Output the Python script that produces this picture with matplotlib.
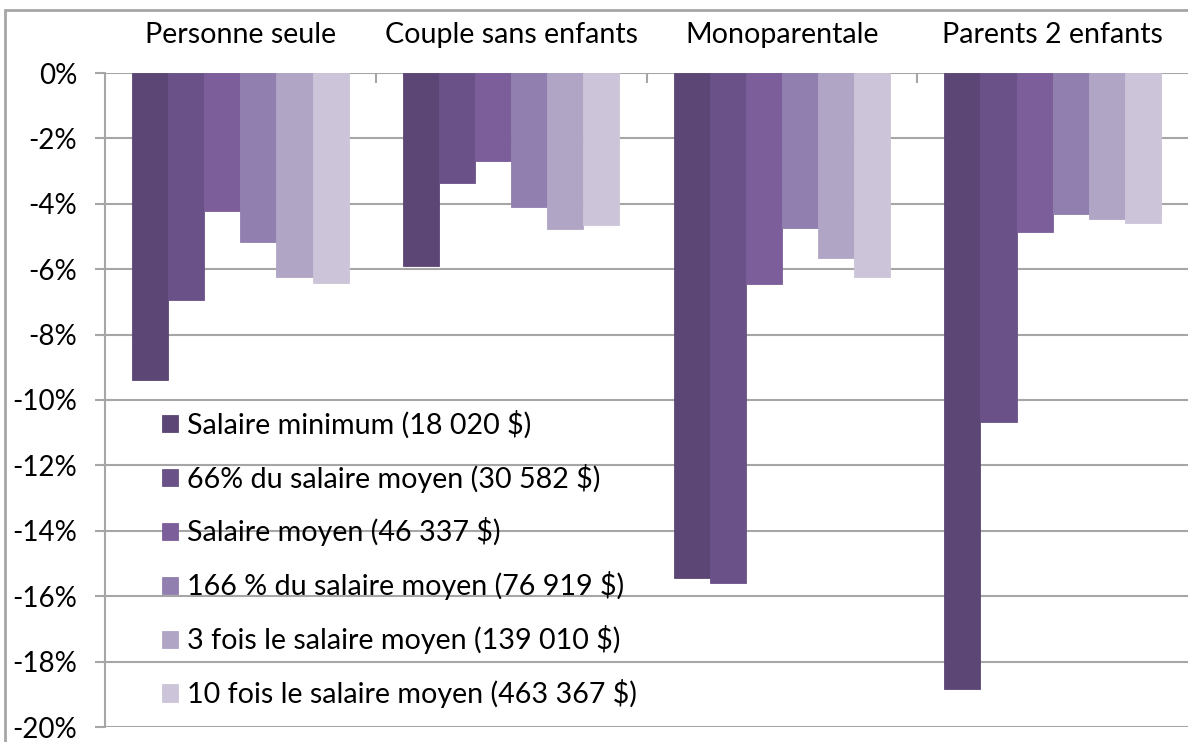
import matplotlib
matplotlib.use("Agg")
import matplotlib.pyplot as plt
import numpy as np
from matplotlib.patches import Rectangle
from matplotlib.ticker import FuncFormatter, FixedLocator

plt.rcParams['font.family'] = ['Lato', 'DejaVu Sans']

categories = ["Personne seule", "Couple sans enfants", "Monoparentale", "Parents 2 enfants"]
series_labels = [
    "Salaire minimum (18 020 $)",
    "66% du salaire moyen (30 582 $)",
    "Salaire moyen (46 337 $)",
    "166 % du salaire moyen (76 919 $)",
    "3 fois le salaire moyen (139 010 $)",
    "10 fois le salaire moyen (463 367 $)",
]
salaire_minimum = [-9.4, -5.9, -15.45, -18.85]
salaire_66 = [-6.95, -3.35, -15.6, -10.67]
salaire_moyen = [-4.22, -2.7, -6.45, -4.86]
salaire_166 = [-5.17, -4.1, -4.74, -4.31]
salaire_3x = [-6.24, -4.77, -5.66, -4.48]
salaire_10x = [-6.42, -4.65, -6.24, -4.59]
series_values = [salaire_minimum, salaire_66, salaire_moyen, salaire_166, salaire_3x, salaire_10x]
colors = ["#5C4675", "#6A5188", "#7B5E9A", "#9180AF", "#B1A5C6", "#CCC5D9"]

W, H = 1188, 742
fig = plt.figure(figsize=(W / 100, H / 100), dpi=100)
ax = fig.add_axes([105 / W, 1 - 727 / H, (1188 - 105) / W, (727 - 73) / H])

n = len(series_values)
group_w = 0.8
bw = group_w / n
x = np.arange(len(categories))
for i, (vals, col, lab) in enumerate(zip(series_values, colors, series_labels)):
    ax.bar(x - group_w / 2 + bw * (i + 0.5), vals, width=bw, color=col, label=lab,
           edgecolor=col, linewidth=0.6, zorder=3)

ax.set_xlim(-0.5, len(categories) - 0.5)
ax.set_ylim(-20, 0)
ax.yaxis.set_major_locator(FixedLocator(np.arange(-20, 1, 2)))
ax.yaxis.set_major_formatter(FuncFormatter(lambda v, p: f"{int(round(v))}%"))
ax.grid(axis='y', color='#A6A6A6', linewidth=1.5, zorder=0)
ax.set_axisbelow(True)

for s in ['right', 'bottom', 'top']:
    ax.spines[s].set_visible(False)
ax.spines['left'].set_color('#A6A6A6')
ax.spines['left'].set_linewidth(1.5)

fs = 20.6
ax.tick_params(axis='y', length=7, width=1.5, color='#A6A6A6', labelsize=20, pad=13,
               labelcolor='black')
ax.xaxis.tick_top()
ax.set_xticks(x)
ax.set_xticklabels(categories, fontsize=fs)
ax.tick_params(axis='x', which='major', length=0, pad=18)
ax.set_xticks(np.arange(0.5, len(categories) - 0.5, 1), minor=True)
ax.tick_params(axis='x', which='minor', top=True, direction='in', length=7, width=1.5,
               color='#A6A6A6')

leg = ax.legend(loc='upper left', bbox_to_anchor=(151 / W, 1 - 399 / H),
                bbox_transform=fig.transFigure, frameon=False, fontsize=fs,
                handlelength=0.55, handleheight=0.55, handletextpad=0.3, labelspacing=0.87,
                borderaxespad=0)

fig.patches.append(Rectangle((5 / W, -0.1), 1.2, 1 - 10 / H + 0.1, transform=fig.transFigure,
                             fill=False, edgecolor='#A6A6A6', linewidth=2))

fig.savefig("out.png", dpi=100)
